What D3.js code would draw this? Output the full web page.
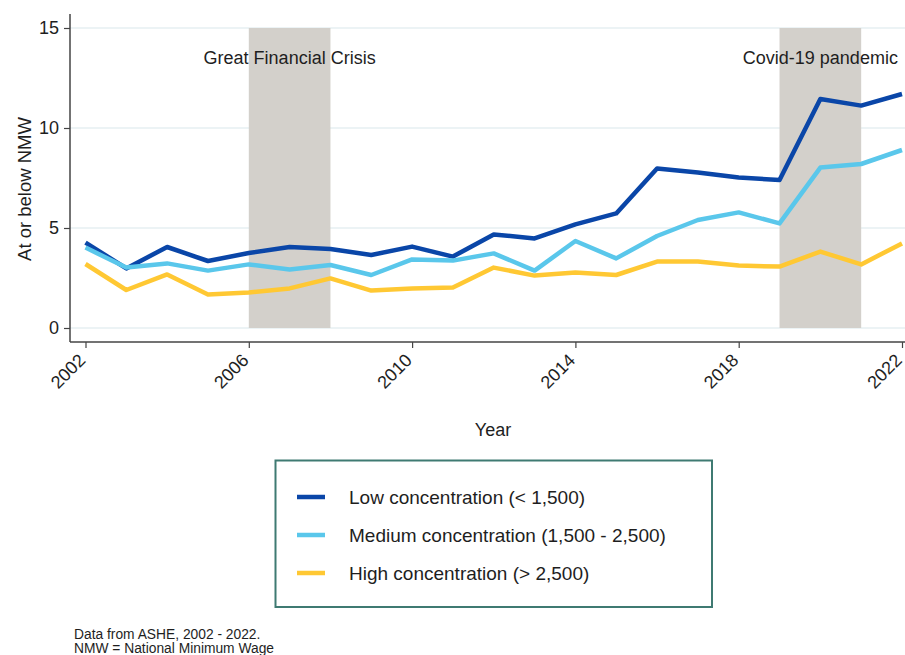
<!DOCTYPE html>
<html>
<head>
<meta charset="utf-8">
<script src="https://cdn.jsdelivr.net/npm/d3@7"></script>
<style>
  html, body { margin: 0; padding: 0; background: #fff; }
  svg { display: block; font-family: "Liberation Sans", Arial, sans-serif; }
</style>
</head>
<body>
<svg id="chart" width="905" height="655"></svg>
<script>
// ---- Data ----
const years = [2002,2003,2004,2005,2006,2007,2008,2009,2010,2011,2012,2013,2014,2015,2016,2017,2018,2019,2020,2021,2022];
const lowConc    = [4.27,2.98,4.05,3.35,3.75,4.05,3.95,3.65,4.07,3.57,4.68,4.48,5.18,5.73,7.98,7.78,7.52,7.40,11.45,11.12,11.70];
const mediumConc = [4.02,3.02,3.23,2.87,3.18,2.93,3.15,2.65,3.43,3.37,3.73,2.87,4.35,3.48,4.60,5.40,5.78,5.23,8.02,8.20,8.90];
const highConc   = [3.20,1.90,2.68,1.68,1.77,1.98,2.48,1.87,1.97,2.03,3.02,2.62,2.78,2.65,3.32,3.32,3.12,3.07,3.82,3.18,4.23];
const seriesNames = ["Low concentration (< 1,500)", "Medium concentration (1,500 - 2,500)", "High concentration (> 2,500)"];
const yTicks = [0, 5, 10, 15];
const xTicks = [2002, 2006, 2010, 2014, 2018, 2022];
const shadedPeriods = [
  {start: 2006, end: 2008, label: "Great Financial Crisis"},
  {start: 2019, end: 2021, label: "Covid-19 pandemic"}
];
const yTitle = "At or below NMW";
const xTitle = "Year";
const notes = ["Data from ASHE, 2002 - 2022.", "NMW = National Minimum Wage"];

// ---- Styles ----
const colors = ["#0a46a8", "#5ac7eb", "#ffc833"];
const textColor = "#1e1e1e";

const svg = d3.select("#chart");
const x = d3.scaleLinear().domain([2002, 2022]).range([85.5, 902]);
const y = d3.scaleLinear().domain([0, 15]).range([328, 28]);
const axisLeftX = 70, axisBottomY = 342;

// gridlines
svg.append("g").selectAll("line").data(yTicks).join("line")
  .attr("x1", axisLeftX).attr("x2", 905)
  .attr("y1", d => y(d)).attr("y2", d => y(d))
  .attr("stroke", "#e6eff2").attr("stroke-width", 1.5);

// shaded periods
svg.append("g").selectAll("rect").data(shadedPeriods).join("rect")
  .attr("x", d => x(d.start)).attr("width", d => x(d.end) - x(d.start))
  .attr("y", y(15)).attr("height", y(0) - y(15))
  .attr("fill", "#d3d0cb");

// annotations
svg.append("g").selectAll("text").data(shadedPeriods).join("text")
  .attr("x", d => (x(d.start) + x(d.end)) / 2)
  .attr("y", 64)
  .attr("text-anchor", "middle")
  .attr("font-size", 18).attr("fill", textColor)
  .text(d => d.label);

// lines
const seriesData = [lowConc, mediumConc, highConc];
const line = d3.line().x((d, i) => x(years[i])).y(d => y(d));
svg.append("g").selectAll("path").data(seriesData).join("path")
  .attr("d", d => line(d))
  .attr("fill", "none")
  .attr("stroke", (d, i) => colors[i])
  .attr("stroke-width", 4.5)
  .attr("stroke-linejoin", "round");

// Y axis
const yAxis = d3.axisLeft(y).tickValues(yTicks).tickSize(6).tickPadding(5).tickFormat(d3.format("d"));
const gy = svg.append("g").attr("transform", `translate(${axisLeftX},0)`).call(yAxis);
gy.select(".domain").remove();
gy.append("line").attr("x1", 0).attr("x2", 0).attr("y1", 14).attr("y2", axisBottomY)
  .attr("stroke", "#444").attr("stroke-width", 1.5);
gy.selectAll(".tick line").attr("stroke", "#444").attr("stroke-width", 1.2);
gy.selectAll(".tick text").attr("font-size", 18).attr("fill", textColor)
  .attr("font-family", "Liberation Sans, Arial, sans-serif");

// X axis
const xAxis = d3.axisBottom(x).tickValues(xTicks).tickSize(6).tickFormat(d3.format("d"));
const gx = svg.append("g").attr("transform", `translate(0,${axisBottomY})`).call(xAxis);
gx.select(".domain").remove();
gx.append("line").attr("x1", axisLeftX).attr("x2", 905).attr("y1", 0).attr("y2", 0)
  .attr("stroke", "#444").attr("stroke-width", 1.5);
gx.selectAll(".tick line").attr("stroke", "#444").attr("stroke-width", 1.2);
gx.selectAll(".tick text")
  .attr("font-size", 18).attr("fill", textColor)
  .attr("font-family", "Liberation Sans, Arial, sans-serif")
  .attr("text-anchor", "end")
  .attr("transform", "translate(-4,15) rotate(-45)")
  .attr("x", 0).attr("y", 0).attr("dy", "0.35em");

// axis titles
svg.append("text")
  .attr("transform", "translate(25,189) rotate(-90)")
  .attr("text-anchor", "middle").attr("dy", "0.35em")
  .attr("font-size", 18.5).attr("fill", textColor)
  .text(yTitle);
svg.append("text")
  .attr("x", 493).attr("y", 436)
  .attr("text-anchor", "middle")
  .attr("font-size", 18).attr("fill", textColor)
  .text(xTitle);

// legend
const lg = svg.append("g");
lg.append("rect").attr("x", 275.5).attr("y", 460.5).attr("width", 436.5).attr("height", 146.5)
  .attr("fill", "#fff").attr("stroke", "#3f7a72").attr("stroke-width", 2);
const legendY = [497, 535, 573];
const items = lg.selectAll("g.item").data(seriesNames).join("g").attr("class", "item")
  .attr("transform", (d, i) => `translate(0,${legendY[i]})`);
items.append("line").attr("x1", 297).attr("x2", 325).attr("y1", 0).attr("y2", 0)
  .attr("stroke", (d, i) => colors[i]).attr("stroke-width", 4.5);
items.append("text").attr("x", 349).attr("y", 0).attr("dy", "0.35em")
  .attr("font-size", 19).attr("fill", textColor).text(d => d);

// notes
svg.append("g").selectAll("text").data(notes).join("text")
  .attr("x", 74).attr("y", (d, i) => 639 + i * 13.5)
  .attr("font-size", 13.8).attr("fill", textColor).text(d => d);
</script>
</body>
</html>
